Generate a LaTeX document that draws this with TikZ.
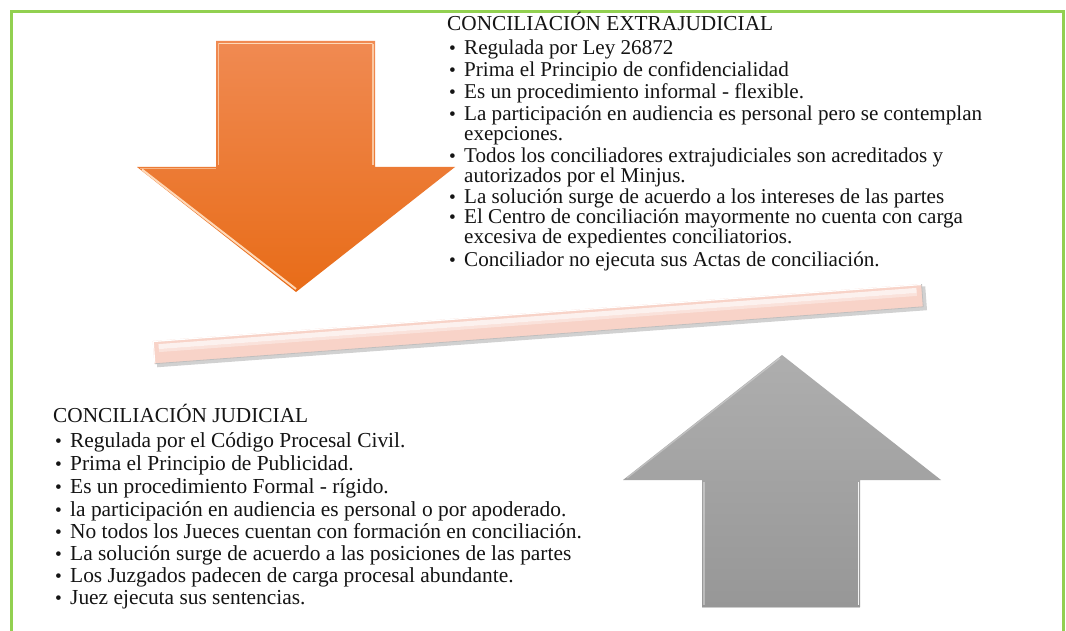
\documentclass[tikz,border=0pt]{standalone}
\usepackage{fontspec}
\setmainfont{Liberation Serif}
\definecolor{frameG}{HTML}{92D050}
\definecolor{orTop}{HTML}{F08A52}
\definecolor{orBot}{HTML}{E86C18}
\definecolor{orLite}{HTML}{FFD9B8}
\definecolor{gyTop}{HTML}{AEAEAE}
\definecolor{gyBot}{HTML}{979797}
\definecolor{barPink}{HTML}{F8D3C8}
\definecolor{txtC}{HTML}{141414}
\tikzset{
  ttlA/.style={anchor=base west, inner sep=0pt, text=txtC, font=\fontsize{21.3}{24}\selectfont},
  itmA/.style={anchor=base west, inner sep=0pt, text=txtC, font=\fontsize{21.1}{24}\selectfont},
  itmB/.style={anchor=base west, inner sep=0pt, text=txtC, font=\fontsize{21.4}{24}\selectfont},
  bulA/.style={anchor=base west, inner sep=0pt, text=txtC, font=\fontsize{19.3}{22}\selectfont},
}
\begin{document}
\begin{tikzpicture}[x=1pt,y=-1pt]
\useasboundingbox (0,0) rectangle (1066,631);
\fill[white] (0,0) rectangle (1066,631);
% frame
\begin{scope}
\clip (0,0) rectangle (1066,631);
\draw[frameG, line width=3pt] (11.5,11.5) rectangle (1063.5,660);
\end{scope}
% orange down arrow
\path[top color=orTop, bottom color=orBot] (216,41) -- (375,41) -- (375,167) -- (455,167) -- (296,292) -- (137,167) -- (216,167) -- cycle;
\draw[orLite, line width=1.6pt, line cap=round] (219,43.5) -- (372,43.5);
\draw[orLite, line width=1.4pt, opacity=0.7] (218.5,44) -- (218.5,165);
\draw[orLite, line width=1.4pt, opacity=0.8] (373,44) -- (373,165);
\draw[orLite, line width=2pt] (142,169.5) -- (296,289);
\draw[orLite, line width=1.2pt, opacity=0.6] (140,168.5) -- (216,168.5);
% bar
\begin{scope}[shift={(538,324)}, rotate=4.24]
  \fill[black, opacity=0.18] (-383,-9) rectangle (389,15);
  \fill[barPink] (-385.5,-11.5) rectangle (385.5,11.5);
  \fill[white, opacity=0.7] (-380,-8) rectangle (380,-3);
  \fill[white, opacity=0.35] (-380,-3) rectangle (380,0);
  \draw[white, line width=1.2pt] (-385,-11) -- (385,-11);
  \draw[black!25, line width=0.8pt] (-385,11.3) -- (385.5,11.3) -- (385.5,-11.3);
  \draw[white, line width=1pt] (-385,-11) -- (-385,11);
\end{scope}
% gray up arrow
\path[top color=gyTop, bottom color=gyBot] (782,355) -- (941,480) -- (860,480) -- (860,607) -- (702,607) -- (702,480) -- (623,480) -- cycle;
\draw[white, line width=1.5pt, opacity=0.9] (858.5,482) -- (858.5,605);
\draw[white, line width=1.2pt, opacity=0.35] (704,482) -- (704,605);
\draw[white, line width=1.2pt, opacity=0.3] (627,478) -- (780,358);
\draw[black!20, line width=0.8pt] (702,607.4) -- (860,607.4);
% top text
\node[ttlA] (tA) at (447,31) {CONCILIACIÓN EXTRAJUDICIAL};
\node[bulA] (ba1) at (449,55) {•};
\node[itmA] (a1) at (464,55) {Regulada por Ley 26872};
\node[bulA] (ba2) at (449,77) {•};
\node[itmA] (a2) at (464,77) {Prima el Principio de confidencialidad};
\node[bulA] (ba3) at (449,99) {•};
\node[itmA] (a3) at (464,99) {Es un procedimiento informal - flexible.};
\node[bulA] (ba4) at (449,121) {•};
\node[itmA] (a4) at (464,121) {La participación en audiencia es personal pero se contemplan};
\node[itmA] (a4b) at (464,141) {exepciones.};
\node[bulA] (ba5) at (449,163) {•};
\node[itmA] (a5) at (464,163) {Todos los conciliadores extrajudiciales son acreditados y};
\node[itmA] (a5b) at (464,183) {autorizados por el Minjus.};
\node[bulA] (ba6) at (449,204) {•};
\node[itmA] (a6) at (464,204) {La solución surge de acuerdo a los intereses de las partes};
\node[bulA] (ba7) at (449,224) {•};
\node[itmA] (a7) at (464,224) {El Centro de conciliación mayormente no cuenta con carga};
\node[itmA] (a7b) at (464,244) {excesiva de expedientes conciliatorios.};
\node[bulA] (ba8) at (449,266) {•};
\node[itmA] (a8) at (464,266) {Conciliador no ejecuta sus Actas de conciliación.};
% bottom text
\node[ttlA] (tB) at (53,422) {CONCILIACIÓN JUDICIAL};
\node[bulA] (bb1) at (55,447) {•};
\node[itmB] (b1) at (70,447) {Regulada por el Código Procesal Civil.};
\node[bulA] (bb2) at (55,470) {•};
\node[itmB] (b2) at (70,470) {Prima el Principio de Publicidad.};
\node[bulA] (bb3) at (55,493) {•};
\node[itmB] (b3) at (70,493) {Es un procedimiento Formal - rígido.};
\node[bulA] (bb4) at (55,516) {•};
\node[itmB] (b4) at (70,516) {la participación en audiencia es personal o por apoderado.};
\node[bulA] (bb5) at (55,538) {•};
\node[itmB] (b5) at (70,538) {No todos los Jueces cuentan con formación en conciliación.};
\node[bulA] (bb6) at (55,560) {•};
\node[itmB] (b6) at (70,560) {La solución surge de acuerdo a las posiciones de las partes};
\node[bulA] (bb7) at (55,582) {•};
\node[itmB] (b7) at (70,582) {Los Juzgados padecen de carga procesal abundante.};
\node[bulA] (bb8) at (55,604) {•};
\node[itmB] (b8) at (70,604) {Juez ejecuta sus sentencias.};
\end{tikzpicture}
\end{document}
